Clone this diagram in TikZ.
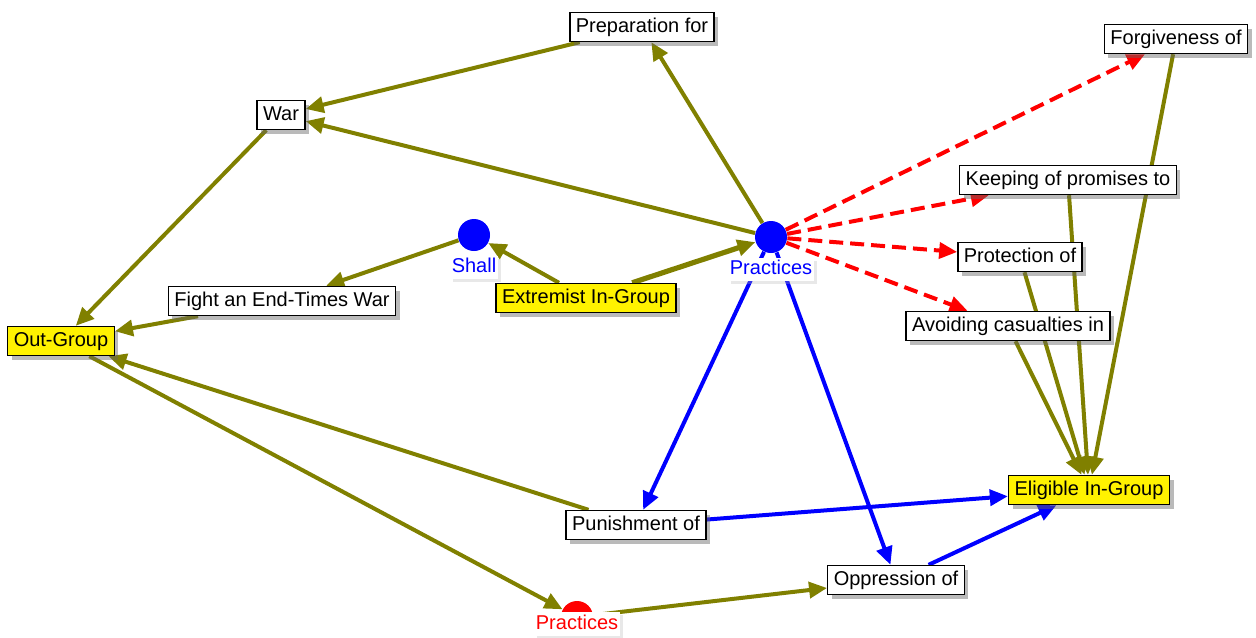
\documentclass[tikz,border=0pt]{standalone}
\usepackage{fontspec}
\setmainfont{Liberation Sans}
\usepackage{tikz}
\usetikzlibrary{positioning}
\usetikzlibrary{shadows}
\usetikzlibrary{backgrounds}
\usetikzlibrary{arrows.meta}
\definecolor{oliveline}{RGB}{128,128,0}

\begin{document}
\begin{tikzpicture}
  [
    x=0.5pt, y=-0.5pt,
    every node/.style={font=\fontsize{10pt}{12pt}\selectfont},
    concept/.style={draw=black, line width=0.7pt, fill=white,
      text height=7.5pt, text depth=2.2pt, inner xsep=3pt, inner ysep=2.4pt,
      drop shadow={shadow xshift=2pt, shadow yshift=-2pt, fill=black!60, opacity=0.45}},
    grp/.style={concept, fill=yellow},
    mdot/.style={circle, minimum size=16pt, inner sep=0pt},
    mlabel/.style={fill=white, inner sep=1pt, text height=7.5pt, text depth=2.2pt,
      drop shadow={shadow xshift=1.5pt, shadow yshift=-1.5pt, fill=black!30, opacity=0.3}},
    ol/.style={draw=oliveline, line width=2pt, -{Triangle[length=9pt,width=8pt]}},
    bl/.style={ol, draw=blue},
    rd/.style={ol, draw=red, dash pattern=on 7pt off 3.5pt}
  ]
  \useasboundingbox (0,0) rectangle (1256,637);

  \node (prep)  at (642,27)  [concept] {Preparation for};
  \node (war)   at (281,115) [concept] {War};
  \node (fight) at (282,301) [concept] {Fight an End-Times War};
  \node (outg)  at (61,341)  [grp]     {Out-Group};
  \node (extg)  at (586,298) [grp]     {Extremist In-Group};
  \node (forg)  at (1176,39) [concept] {Forgiveness of};
  \node (keep)  at (1068,180)[concept] {Keeping of promises to};
  \node (prot)  at (1020,257)[concept] {Protection of};
  \node (avoid) at (1008,326)[concept] {Avoiding casualties in};
  \node (elig)  at (1089,490)[grp]     {Eligible In-Group};
  \node (pun)   at (636,525) [concept] {Punishment of};
  \node (opp)   at (896,580) [concept] {Oppression of};

  \node (shall) at (474,235) [mdot, fill=blue] {};
  \node (prac)  at (771,237) [mdot, fill=blue] {};
  \node (prred) at (577,617) [mdot, fill=red]  {};

  \node (lshall) [below=2pt of shall, mlabel, text=blue] {Shall};
  \node (lprac)  [below=2pt of prac,  mlabel, text=blue] {Practices};
  \node (lprred) at (577,624) [mlabel, text=red] {Practices};

  \begin{scope}[on background layer]
    \draw [ol] (prep) -- (war);
    \draw [ol] (prac) -- (war);
    \draw [ol] (prac) -- (prep);
    \draw [ol] (war) -- (outg);
    \draw [ol] (shall) -- (fight);
    \draw [ol] (fight) -- (outg);
    \draw [ol] (extg) -- (shall);
    \draw [ol, line width=2.6pt] (extg) -- (prac);
    \draw [ol] (pun) -- (outg);
    \draw [ol] (outg) -- (prred);
    \draw [ol] (prred) -- (opp);
    \draw [ol] (forg) -- (elig);
    \draw [ol] (keep) -- (elig);
    \draw [ol] (prot) -- (elig);
    \draw [ol] (avoid) -- (elig);

    \draw [bl] (prac) -- (pun);
    \draw [bl] (prac) -- (opp);
    \draw [bl] (pun) -- (elig);
    \draw [bl] (opp) -- (elig);

    \draw [rd] (prac) -- (forg);
    \draw [rd] (prac) -- (keep);
    \draw [rd] (prac) -- (prot);
    \draw [rd] (prac) -- (avoid);
  \end{scope}
\end{tikzpicture}
\end{document}
